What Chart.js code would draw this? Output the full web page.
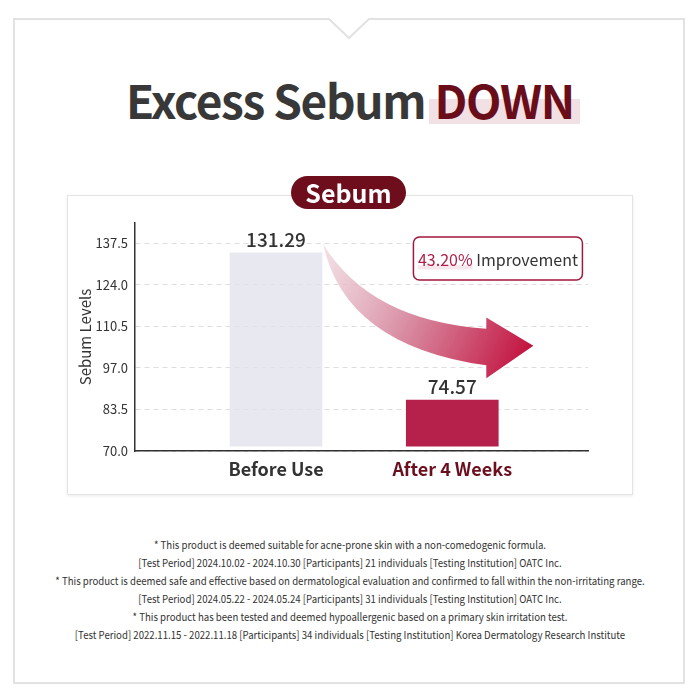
<!DOCTYPE html>
<html>
<head>
<meta charset="utf-8">
<script src="https://cdn.jsdelivr.net/npm/chart.js@4/dist/chart.umd.min.js"></script>
<style>
  html, body { margin: 0; padding: 0; background: #fff; }
  body { width: 700px; height: 700px; position: relative; overflow: hidden;
         font-family: "Noto Sans CJK KR", "Noto Sans", sans-serif; color: #333; }
  #frame { position: absolute; left: 0; top: 0; }
  #title { position: absolute; left: 0; width: 700px; top: 69px; text-align: center; z-index: 1;
           font-size: 46px; font-weight: 700; letter-spacing: -1.3px; line-height: 60px; color: #383838; }
  #title .down { color: #6a0d1a; position: relative; }
  #title .down::before { content: ""; position: absolute; left: -6px; right: -6px; top: 33px; height: 25px;
                         background: #f1e1e5; z-index: -1; }
  #card { position: absolute; left: 67px; top: 195px; width: 566px; height: 300px; background: #fff;
          border: 1px solid #e4e4e4; box-sizing: border-box; box-shadow: 0 1px 3px rgba(0,0,0,0.08); }
  #card canvas { position: absolute; left: -1px; top: -1px; }
  #pill { position: absolute; left: 291px; top: 176px; width: 115px; height: 33px; border-radius: 17px;
          background: #6e0e1c; color: #fff; font-weight: 700; font-size: 25px; line-height: 32px; text-align: center;
          z-index: 2; }
  #notes { position: absolute; left: 0; width: 700px; top: 535px; text-align: center;
           font-size: 11px; line-height: 18px; color: #333; transform: scaleX(0.875); transform-origin: 350px 0; }
</style>
</head>
<body>
<svg id="frame" width="700" height="700">
  <path d="M14,19 H329 L349,38 L369,19 H684 V683 H14 Z" fill="none" stroke="#e2e2e2" stroke-width="2"/>
</svg>
<div id="title">Excess Sebum <span class="down">DOWN</span></div>
<div id="card"><canvas id="sebumChart" width="566" height="300"></canvas></div>
<div id="pill">Sebum</div>
<div id="notes">
  * This product is deemed suitable for acne-prone skin with a non-comedogenic formula.<br>
  [Test Period] 2024.10.02 - 2024.10.30 [Participants] 21 individuals [Testing Institution] OATC Inc.<br>
  * This product is deemed safe and effective based on dermatological evaluation and confirmed to fall within the non-irritating range.<br>
  [Test Period] 2024.05.22 - 2024.05.24 [Participants] 31 individuals [Testing Institution] OATC Inc.<br>
  * This product has been tested and deemed hypoallergenic based on a primary skin irritation test.<br>
  [Test Period] 2022.11.15 - 2022.11.18 [Participants] 34 individuals [Testing Institution] Korea Dermatology Research Institute
</div>
<script>
const categories = ["Before Use", "After 4 Weeks"];
const valueLabels = ["131.29", "74.57"];
// bar extents as drawn in the picture (sebum level units)
const barBottoms = [71.6, 71.6];
const barTops = [134.3, 86.5];
const yTicks = [70.0, 83.5, 97.0, 110.5, 124.0, 137.5];
const improvement = "43.20%";

const FONT = '"Noto Sans CJK KR", "Noto Sans", sans-serif';

// arrow outline in data units (x = category index, y = sebum level)
const arrowStart = [0.267, 137.2];
const arrowUpperCtrl = [0.534, 112.3];
const arrowUpperEnd = [1.193, 109.7];
const arrowHeadTop = [1.193, 113.3];
const arrowTip = [1.46, 104.2];
const arrowHeadBottom = [1.193, 93.6];
const arrowLowerEnd = [1.193, 97.8];
const arrowLowerCtrl = [0.392, 104.2];
const boxCenter = [1.259, 132.5];

const decorPlugin = {
  id: "decor",
  afterDatasetsDraw(chart) {
    const { ctx, scales: { x, y } } = chart;
    const px = (p) => [x.getPixelForValue(p[0]), y.getPixelForValue(p[1])];

    // curved arrow
    const s = px(arrowStart), uc = px(arrowUpperCtrl), ue = px(arrowUpperEnd);
    const ht = px(arrowHeadTop), tp = px(arrowTip), hb = px(arrowHeadBottom);
    const le = px(arrowLowerEnd), lc = px(arrowLowerCtrl);
    ctx.save();
    const grad = ctx.createLinearGradient(s[0], s[1], tp[0], tp[1]);
    grad.addColorStop(0, "rgba(238, 212, 219, 0.7)");
    grad.addColorStop(0.45, "rgba(216, 140, 162, 0.95)");
    grad.addColorStop(1, "#c2123f");
    ctx.fillStyle = grad;
    ctx.beginPath();
    ctx.moveTo(s[0], s[1]);
    ctx.quadraticCurveTo(uc[0], uc[1], ue[0], ue[1]);
    ctx.lineTo(ht[0], ht[1]);
    ctx.lineTo(tp[0], tp[1]);
    ctx.lineTo(hb[0], hb[1]);
    ctx.lineTo(le[0], le[1]);
    ctx.quadraticCurveTo(lc[0], lc[1], s[0], s[1]);
    ctx.closePath();
    ctx.fill();
    ctx.restore();

    // value labels above bars
    ctx.save();
    ctx.font = `500 19px ${FONT}`;
    ctx.fillStyle = "#333";
    ctx.textAlign = "center";
    ctx.textBaseline = "bottom";
    valueLabels.forEach((label, i) => {
      ctx.fillText(label, x.getPixelForValue(i), y.getPixelForValue(barTops[i]) - 4);
    });
    ctx.restore();

    // improvement box
    const c = px(boxCenter);
    const w = 169, h = 43;
    ctx.save();
    ctx.fillStyle = "#fff";
    ctx.strokeStyle = "#a1173d";
    ctx.lineWidth = 1.5;
    ctx.beginPath();
    ctx.roundRect(c[0] - w / 2, c[1] - h / 2, w, h, 6);
    ctx.fill();
    ctx.stroke();
    ctx.font = `400 16px ${FONT}`;
    const pctW = ctx.measureText(improvement + " ").width;
    const restW = ctx.measureText("Improvement").width;
    const startX = c[0] - (pctW + restW) / 2;
    ctx.fillStyle = "rgba(240, 205, 215, 0.5)";
    ctx.fillRect(startX, c[1] + 7, ctx.measureText(improvement).width, 4);
    ctx.textBaseline = "middle";
    ctx.fillStyle = "#b01e48";
    ctx.fillText(improvement, startX, c[1] + 1);
    ctx.fillStyle = "#333";
    ctx.fillText("Improvement", startX + pctW, c[1] + 1);
    ctx.restore();
  }
};

const ctx = document.getElementById("sebumChart").getContext("2d");
const sebumChart = new Chart(ctx, {
  type: "bar",
  data: {
    datasets: [
      {
        data: categories.map((c, i) => ({ x: i, y: [barBottoms[i], barTops[i]] })),
        backgroundColor: ["rgba(226, 228, 236, 0.8)", "#b5214a"],
        borderWidth: 0,
        barThickness: 92,
      },
    ],
  },
  options: {
    responsive: false,
    animation: false,
    devicePixelRatio: 1,
    layout: { padding: { top: 28, right: 45, bottom: 0, left: 0 } },
    plugins: { legend: { display: false }, tooltip: { enabled: false } },
    scales: {
      x: {
        type: "linear",
        offset: false,
        min: -0.8,
        max: 1.77,
        afterBuildTicks: (scale) => { scale.ticks = categories.map((c, i) => ({ value: i })); },
        afterFit: (scale) => { scale.height = 44; },
        ticks: {
          callback: (v) => categories[v],
          color: (c) => (c.tick.value === 1 ? "#6b0f1f" : "#333"),
          font: { family: FONT, size: 18, weight: "600" },
          padding: 7,
          autoSkip: false,
          maxRotation: 0,
        },
        grid: { display: false, drawTicks: false },
        border: { color: "#333", width: 1.5 },
      },
      y: {
        min: 70,
        max: 144,
        afterBuildTicks: (scale) => { scale.ticks = yTicks.map((v) => ({ value: v })); },
        afterFit: (scale) => { scale.width = 68; },
        ticks: {
          callback: (v) => v.toFixed(1),
          color: "#333",
          font: { family: FONT, size: 13 },
          padding: 7,
        },
        grid: { color: "#dddddd", drawTicks: false, lineWidth: 1 },
        border: { color: "#333", width: 1.5, dash: [5, 4] },
        title: {
          display: true,
          text: "Sebum Levels",
          color: "#333",
          font: { family: FONT, size: 15 },
          padding: { top: 9, bottom: 0 },
        },
      },
    },
  },
  plugins: [decorPlugin],
});
</script>
</body>
</html>
